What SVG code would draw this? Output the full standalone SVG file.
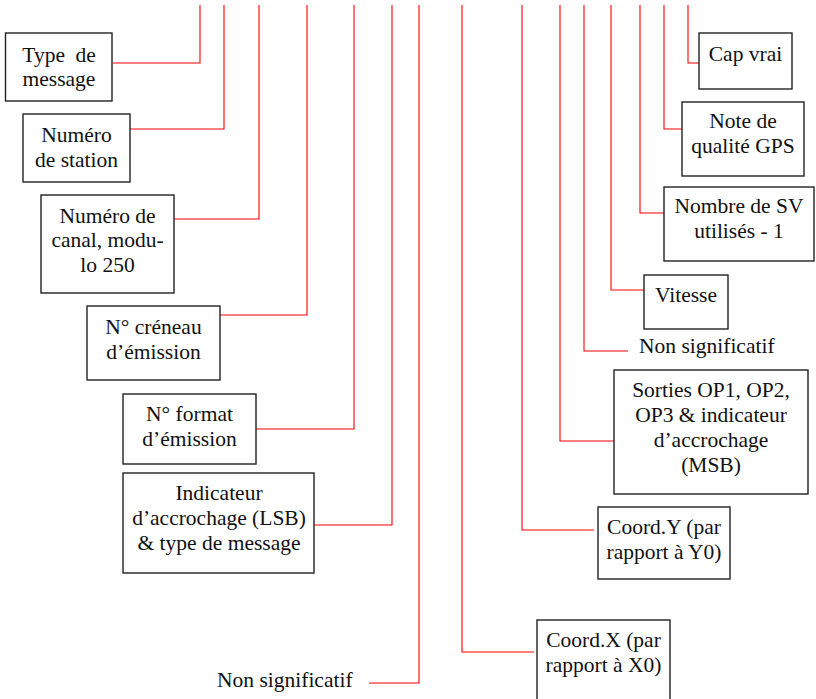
<svg xmlns="http://www.w3.org/2000/svg" width="816" height="699" viewBox="0 0 816 699">
<style>
.box{fill:#fff;stroke:#222;stroke-width:1.4}
.t{font-family:"Liberation Serif",serif;font-size:21.5px;fill:#111;text-anchor:middle}
.ts{font-family:"Liberation Serif",serif;font-size:21.5px;fill:#111}
#connectors path{fill:none;stroke:#f00;stroke-width:1.1}
</style>
<rect width="816" height="699" fill="#fff"/>
<g id="connectors">
<path d="M200 5V63H113"/>
<path d="M224 5V129H130"/>
<path d="M259 5V219H174"/>
<path d="M307 5V315H220"/>
<path d="M354 5V429H256"/>
<path d="M392 5V525H311"/>
<path d="M419 5V683H369"/>
<path d="M462 5V652H534"/>
<path d="M522 5V530H594"/>
<path d="M560 5V441H614"/>
<path d="M584 5V351H628"/>
<path d="M611 5V290H644"/>
<path d="M640 5V213H664"/>
<path d="M664 5V129H682"/>
<path d="M688 5V63H702"/>
</g>
<g id="type-message">
<rect class="box" x="5.5" y="33" width="106.5" height="68"/>
<text class="t" font-family="Liberation Serif" x="59" y="62" word-spacing="5">Type de</text>
<text class="t" font-family="Liberation Serif" x="59" y="86">message</text>
</g>
<g id="numero-station">
<rect class="box" x="23" y="114" width="107" height="68"/>
<text class="t" font-family="Liberation Serif" x="76.5" y="142">Num&#233;ro</text>
<text class="t" font-family="Liberation Serif" x="76.5" y="167">de station</text>
</g>
<g id="numero-canal">
<rect class="box" x="41" y="195" width="133" height="98"/>
<text class="t" font-family="Liberation Serif" x="107.5" y="223">Num&#233;ro de</text>
<text class="t" font-family="Liberation Serif" x="107.5" y="247">canal, modu-</text>
<text class="t" font-family="Liberation Serif" x="107.5" y="272">lo 250</text>
</g>
<g id="creneau">
<rect class="box" x="87" y="306" width="133" height="74"/>
<text class="t" font-family="Liberation Serif" x="153.5" y="334">N&#176; cr&#233;neau</text>
<text class="t" font-family="Liberation Serif" x="153.5" y="359">d&#8217;&#233;mission</text>
</g>
<g id="format">
<rect class="box" x="123" y="394" width="133" height="70"/>
<text class="t" font-family="Liberation Serif" x="189.5" y="421">N&#176; format</text>
<text class="t" font-family="Liberation Serif" x="189.5" y="446">d&#8217;&#233;mission</text>
</g>
<g id="indicateur-lsb">
<rect class="box" x="123" y="473" width="191" height="100"/>
<text class="t" font-family="Liberation Serif" x="219" y="500">Indicateur</text>
<text class="t" font-family="Liberation Serif" x="219" y="525">d&#8217;accrochage (LSB)</text>
<text class="t" font-family="Liberation Serif" x="219" y="550">&amp; type de message</text>
</g>
<g id="non-significatif-1">
<text class="ts" font-family="Liberation Serif" x="217" y="687">Non significatif</text>
</g>
<g id="coord-x">
<rect class="box" x="537" y="620" width="133" height="84"/>
<text class="t" font-family="Liberation Serif" x="603.5" y="647">Coord.X (par</text>
<text class="t" font-family="Liberation Serif" x="603.5" y="672">rapport &#224; X0)</text>
</g>
<g id="coord-y">
<rect class="box" x="598" y="507" width="132" height="72"/>
<text class="t" font-family="Liberation Serif" x="664" y="534">Coord.Y (par</text>
<text class="t" font-family="Liberation Serif" x="664" y="559">rapport &#224; Y0)</text>
</g>
<g id="sorties">
<rect class="box" x="614" y="370" width="194" height="124"/>
<text class="t" font-family="Liberation Serif" x="711" y="397">Sorties OP1, OP2,</text>
<text class="t" font-family="Liberation Serif" x="711" y="422">OP3 &amp; indicateur</text>
<text class="t" font-family="Liberation Serif" x="711" y="447">d&#8217;accrochage</text>
<text class="t" font-family="Liberation Serif" x="711" y="472">(MSB)</text>
</g>
<g id="non-significatif-2">
<text class="ts" font-family="Liberation Serif" x="639" y="353">Non significatif</text>
</g>
<g id="vitesse">
<rect class="box" x="644" y="275" width="84" height="54"/>
<text class="t" font-family="Liberation Serif" x="686" y="302">Vitesse</text>
</g>
<g id="nombre-sv">
<rect class="box" x="664" y="187" width="150" height="74"/>
<text class="t" font-family="Liberation Serif" x="739" y="213">Nombre de SV</text>
<text class="t" font-family="Liberation Serif" x="739" y="238">utilis&#233;s - 1</text>
</g>
<g id="note-gps">
<rect class="box" x="682" y="102" width="122" height="74"/>
<text class="t" font-family="Liberation Serif" x="743" y="128">Note de</text>
<text class="t" font-family="Liberation Serif" x="743" y="153">qualit&#233; GPS</text>
</g>
<g id="cap-vrai">
<rect class="box" x="699" y="33" width="93" height="56"/>
<text class="t" font-family="Liberation Serif" x="745.5" y="61">Cap vrai</text>
</g>
</svg>
